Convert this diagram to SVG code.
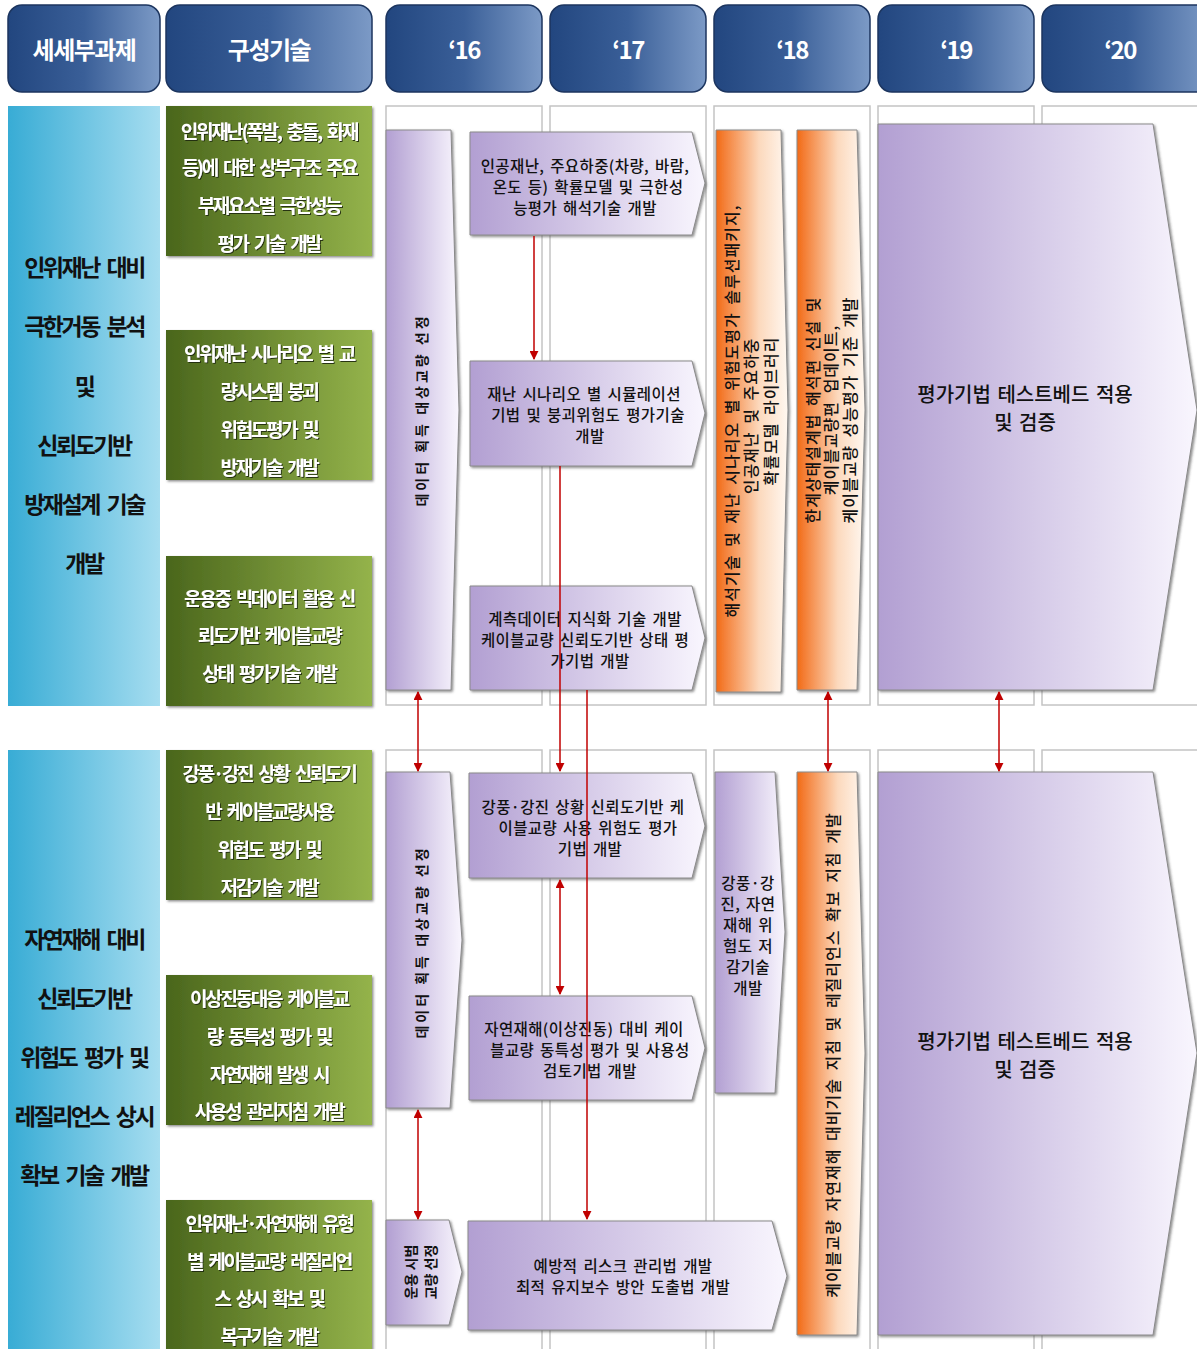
<svg xmlns="http://www.w3.org/2000/svg" width="1197" height="1349" viewBox="0 0 1197 1349">
<defs>
<linearGradient id="gHdr" x1="0" y1="0" x2="1" y2="0"><stop offset="0" stop-color="#22467f"/><stop offset="0.5" stop-color="#3a5f98"/><stop offset="1" stop-color="#7c9ac6"/></linearGradient>
<linearGradient id="gBlue" x1="0" y1="0" x2="1" y2="0"><stop offset="0" stop-color="#38acd5"/><stop offset="1" stop-color="#a6ddf0"/></linearGradient>
<linearGradient id="gGreen" x1="0" y1="0" x2="1" y2="0"><stop offset="0" stop-color="#4a661c"/><stop offset="1" stop-color="#94b34b"/></linearGradient>
<linearGradient id="gPurple" x1="0" y1="0" x2="1" y2="0"><stop offset="0" stop-color="#b29fd2"/><stop offset="1" stop-color="#f9f6fe"/></linearGradient>
<linearGradient id="gOrange" x1="0" y1="0" x2="1" y2="0"><stop offset="0" stop-color="#f26a16"/><stop offset="0.6" stop-color="#fcd9bd"/><stop offset="1" stop-color="#fff8f1"/></linearGradient>
<filter id="sh" x="-10%" y="-10%" width="130%" height="130%"><feDropShadow dx="1.5" dy="1.5" stdDeviation="1" flood-color="#444" flood-opacity="0.6"/></filter>
<filter id="ts" x="-5%" y="-20%" width="110%" height="150%"><feDropShadow dx="1" dy="1" stdDeviation="0.6" flood-color="#1e2a08" flood-opacity="0.9"/></filter>
<marker id="ah" viewBox="0 0 10 10" refX="9" refY="5" markerWidth="6" markerHeight="6" orient="auto-start-reverse"><path d="M0,0 L10,5 L0,10 Z" fill="#c00000"/></marker>
<style>
.hdr{fill:url(#gHdr);stroke:#1c355f;stroke-width:1.5}
.hdrT{font-family:"Noto Sans CJK KR","Noto Sans",sans-serif;font-weight:700;font-size:24px;fill:#fff;text-anchor:middle;dominant-baseline:central;letter-spacing:-1.5px}
.col{fill:#fff;stroke:#c4c4c4;stroke-width:1.5}
.blue{fill:url(#gBlue)}
.blueT{font-family:"Noto Sans CJK KR","Noto Sans",sans-serif;font-weight:700;font-size:23px;fill:#111;text-anchor:middle;dominant-baseline:central;letter-spacing:-2.5px;word-spacing:5px}
.green{fill:url(#gGreen);filter:url(#sh)}
.greenT{font-family:"Noto Sans CJK KR","Noto Sans",sans-serif;font-weight:700;font-size:19px;fill:#fff;text-anchor:middle;dominant-baseline:central;letter-spacing:-2.3px;word-spacing:4px;filter:url(#ts)}
.pur{fill:url(#gPurple);stroke:#8a8a8a;stroke-width:1;filter:url(#sh)}
.org{fill:url(#gOrange);stroke:#8a8a8a;stroke-width:1;filter:url(#sh)}
.t{font-family:"Noto Sans CJK KR","Noto Sans",sans-serif;font-weight:500;font-size:15.5px;fill:#111;text-anchor:middle;dominant-baseline:central;letter-spacing:0.4px;word-spacing:2px}
.tv{font-family:"Noto Sans CJK KR","Noto Sans",sans-serif;font-weight:700;font-size:14px;fill:#111;text-anchor:middle;dominant-baseline:central}
.to{font-family:"Noto Sans CJK KR","Noto Sans",sans-serif;font-weight:500;font-size:16px;fill:#111;text-anchor:middle;dominant-baseline:central;letter-spacing:1px;word-spacing:3px}
.big{font-family:"Noto Sans CJK KR","Noto Sans",sans-serif;font-weight:500;font-size:20px;fill:#111;text-anchor:middle;dominant-baseline:central;word-spacing:2px}
.con{stroke:#c00000;stroke-width:1.5;fill:none}
</style>
</defs>

<g id="header">
<g id="h1"><rect class="hdr" x="8" y="5" width="152" height="87" rx="14"/><text class="hdrT" x="84" y="48">세세부과제</text></g>
<g id="h2"><rect class="hdr" x="166" y="5" width="206" height="87" rx="14"/><text class="hdrT" x="269" y="48">구성기술</text></g>
<g id="h3"><rect class="hdr" x="386" y="5" width="156" height="87" rx="14"/><text class="hdrT" x="464" y="48">‘16</text></g>
<g id="h4"><rect class="hdr" x="550" y="5" width="156" height="87" rx="14"/><text class="hdrT" x="628" y="48">‘17</text></g>
<g id="h5"><rect class="hdr" x="714" y="5" width="156" height="87" rx="14"/><text class="hdrT" x="792" y="48">‘18</text></g>
<g id="h6"><rect class="hdr" x="878" y="5" width="156" height="87" rx="14"/><text class="hdrT" x="956" y="48">‘19</text></g>
<g id="h7"><rect class="hdr" x="1042" y="5" width="170" height="87" rx="14"/><text class="hdrT" x="1120" y="48">‘20</text></g>
</g>

<g id="columns">
<rect class="col" x="386" y="106" width="156" height="599"/>
<rect class="col" x="550" y="106" width="156" height="599"/>
<rect class="col" x="714" y="106" width="156" height="599"/>
<rect class="col" x="878" y="106" width="156" height="599"/>
<rect class="col" x="1042" y="106" width="160" height="599"/>
<rect class="col" x="386" y="750" width="156" height="605"/>
<rect class="col" x="550" y="750" width="156" height="605"/>
<rect class="col" x="714" y="750" width="156" height="605"/>
<rect class="col" x="878" y="750" width="156" height="605"/>
<rect class="col" x="1042" y="750" width="160" height="605"/>
</g>

<g id="task1">
<rect class="blue" x="8" y="106" width="152" height="600"/>
<text class="blueT" x="84" y="266">인위재난 대비</text>
<text class="blueT" x="84" y="325">극한거동 분석</text>
<text class="blueT" x="84" y="385">및</text>
<text class="blueT" x="84" y="444">신뢰도기반</text>
<text class="blueT" x="84" y="503">방재설계 기술</text>
<text class="blueT" x="84" y="562">개발</text>
</g>
<g id="task2">
<rect class="blue" x="8" y="750" width="152" height="605"/>
<text class="blueT" x="84" y="938">자연재해 대비</text>
<text class="blueT" x="84" y="997">신뢰도기반</text>
<text class="blueT" x="84" y="1056">위험도 평가 및</text>
<text class="blueT" x="84" y="1115">레질리언스 상시</text>
<text class="blueT" x="84" y="1174">확보 기술 개발</text>
</g>

<g id="tech1"><rect class="green" x="166" y="106" width="206" height="150"/>
<text class="greenT" x="269" y="130">인위재난(폭발, 충돌, 화재</text>
<text class="greenT" x="269" y="166">등)에 대한 상부구조 주요</text>
<text class="greenT" x="269" y="204">부재요소별 극한성능</text>
<text class="greenT" x="269" y="242">평가 기술 개발</text></g>
<g id="tech2"><rect class="green" x="166" y="330" width="206" height="150"/>
<text class="greenT" x="269" y="352">인위재난 시나리오 별 교</text>
<text class="greenT" x="269" y="390">량시스템 붕괴</text>
<text class="greenT" x="269" y="428">위험도평가 및</text>
<text class="greenT" x="269" y="466">방재기술 개발</text></g>
<g id="tech3"><rect class="green" x="166" y="556" width="206" height="150"/>
<text class="greenT" x="269" y="597">운용중 빅데이터 활용 신</text>
<text class="greenT" x="269" y="634">뢰도기반 케이블교량</text>
<text class="greenT" x="269" y="672">상태 평가기술 개발</text></g>
<g id="tech4"><rect class="green" x="166" y="750" width="206" height="150"/>
<text class="greenT" x="269" y="772">강풍·강진 상황 신뢰도기</text>
<text class="greenT" x="269" y="810">반 케이블교량사용</text>
<text class="greenT" x="269" y="848">위험도 평가 및</text>
<text class="greenT" x="269" y="886">저감기술 개발</text></g>
<g id="tech5"><rect class="green" x="166" y="975" width="206" height="150"/>
<text class="greenT" x="269" y="997">이상진동대응 케이블교</text>
<text class="greenT" x="269" y="1035">량 동특성 평가 및</text>
<text class="greenT" x="269" y="1073">자연재해 발생 시</text>
<text class="greenT" x="269" y="1110">사용성 관리지침 개발</text></g>
<g id="tech6"><rect class="green" x="166" y="1200" width="206" height="155"/>
<text class="greenT" x="269" y="1222">인위재난·자연재해 유형</text>
<text class="greenT" x="269" y="1260">별 케이블교량 레질리언</text>
<text class="greenT" x="269" y="1297">스 상시 확보 및</text>
<text class="greenT" x="269" y="1335">복구기술 개발</text></g>

<g id="data1"><path class="pur" d="M386,130 L451,130 L459,410 L451,690 L386,690 Z"/>
<text class="tv" transform="translate(421,410) rotate(-90)" letter-spacing="3">데이터 획득 대상교량 선정</text></g>
<g id="data2"><path class="pur" d="M386,772 L450,772 L462,940 L450,1108 L386,1108 Z"/>
<text class="tv" transform="translate(421,942) rotate(-90)" letter-spacing="3">데이터 획득 대상교량 선정</text></g>
<g id="pilot"><path class="pur" d="M386,1220 L449,1220 L462,1272 L449,1325 L386,1325 Z"/>
<text class="tv" transform="translate(410,1272) rotate(-90)">운용 시범</text>
<text class="tv" transform="translate(430,1272) rotate(-90)">교량 선정</text></g>

<g id="boxA"><path class="pur" d="M470,132 L692,132 L705,183 L692,235 L470,235 Z"/>
<text class="t" x="585" y="165">인공재난, 주요하중(차량, 바람,</text>
<text class="t" x="588" y="186">온도 등) 확률모델 및 극한성</text>
<text class="t" x="585" y="207">능평가 해석기술 개발</text></g>
<g id="boxB"><path class="pur" d="M470,361 L692,361 L705,413 L692,466 L470,466 Z"/>
<text class="t" x="584" y="393">재난 시나리오 별 시뮬레이션</text>
<text class="t" x="588" y="414">기법 및 붕괴위험도 평가기술</text>
<text class="t" x="590" y="435">개발</text></g>
<g id="boxC"><path class="pur" d="M470,586 L692,586 L705,638 L692,690 L470,690 Z"/>
<text class="t" x="585" y="618">계측데이터 지식화 기술 개발</text>
<text class="t" x="585" y="639">케이블교량 신뢰도기반 상태 평</text>
<text class="t" x="590" y="660">가기법 개발</text></g>
<g id="boxD"><path class="pur" d="M469,773 L692,773 L705,826 L692,878 L469,878 Z"/>
<text class="t" x="583" y="806">강풍·강진 상황 신뢰도기반 케</text>
<text class="t" x="588" y="827">이블교량 사용 위험도 평가</text>
<text class="t" x="590" y="848">기법 개발</text></g>
<g id="boxE"><path class="pur" d="M469,996 L692,996 L705,1048 L692,1100 L469,1100 Z"/>
<text class="t" x="584" y="1028">자연재해(이상진동) 대비 케이</text>
<text class="t" x="590" y="1049">블교량 동특성 평가 및 사용성</text>
<text class="t" x="590" y="1070">검토기법 개발</text></g>
<g id="boxF"><path class="pur" d="M468,1221 L772,1221 L787,1276 L772,1330 L468,1330 Z"/>
<text class="t" x="623" y="1265">예방적 리스크 관리법 개발</text>
<text class="t" x="623" y="1286">최적 유지보수 방안 도출법 개발</text></g>

<g id="org1"><path class="org" d="M716,130 L781,130 L788,410 L781,692 L716,692 Z"/>
<text class="to" transform="translate(731,411) rotate(-90)">해석기술 및 재난 시나리오 별 위험도평가 솔루션패키지,</text>
<text class="to" transform="translate(750,416) rotate(-90)">인공재난 및 주요하중</text>
<text class="to" transform="translate(770,411) rotate(-90)">확률모델 라이브러리</text></g>
<g id="org2"><path class="org" d="M797,130 L857,130 L865,410 L857,690 L797,690 Z"/>
<text class="to" transform="translate(812,410) rotate(-90)">한계상태설계법 해석편 신설 및</text>
<text class="to" transform="translate(830,410) rotate(-90)">케이블교량편 업데이트,</text>
<text class="to" transform="translate(849,410) rotate(-90)">케이블교량 성능평가 기준 개발</text></g>

<g id="wind"><path class="pur" d="M715,772 L775,772 L785,932 L775,1093 L715,1093 Z"/>
<text class="t" x="748" y="882">강풍·강</text>
<text class="t" x="748" y="903">진, 자연</text>
<text class="t" x="748" y="924">재해 위</text>
<text class="t" x="748" y="945">험도 저</text>
<text class="t" x="748" y="966">감기술</text>
<text class="t" x="748" y="987">개발</text></g>
<g id="org3"><path class="org" d="M797,772 L857,772 L865,1053 L857,1335 L797,1335 Z"/>
<text class="to" transform="translate(832,1055) rotate(-90)" font-size="15" letter-spacing="3.5" word-spacing="0">케이블교량 자연재해 대비기술 지침 및 레질리언스 확보 지침 개발</text></g>

<g id="test1"><path class="pur" d="M878,124 L1153,124 L1197,410 L1153,690 L878,690 Z"/>
<text class="big" x="1025" y="393">평가기법 테스트베드 적용</text>
<text class="big" x="1025" y="421">및 검증</text></g>
<g id="test2"><path class="pur" d="M878,772 L1153,772 L1197,1053 L1153,1335 L878,1335 Z"/>
<text class="big" x="1025" y="1040">평가기법 테스트베드 적용</text>
<text class="big" x="1025" y="1068">및 검증</text></g>

<g id="connectors">
<line class="con" x1="534" y1="236" x2="534" y2="359" marker-end="url(#ah)"/>
<line class="con" x1="560" y1="466" x2="560" y2="771" marker-end="url(#ah)"/>
<line class="con" x1="587" y1="690" x2="587" y2="1219" marker-end="url(#ah)"/>
<line class="con" x1="560" y1="880" x2="560" y2="994" marker-start="url(#ah)" marker-end="url(#ah)"/>
<line class="con" x1="418" y1="692" x2="418" y2="771" marker-start="url(#ah)" marker-end="url(#ah)"/>
<line class="con" x1="418" y1="1110" x2="418" y2="1219" marker-start="url(#ah)" marker-end="url(#ah)"/>
<line class="con" x1="828" y1="692" x2="828" y2="771" marker-start="url(#ah)" marker-end="url(#ah)"/>
<line class="con" x1="999" y1="692" x2="999" y2="771" marker-start="url(#ah)" marker-end="url(#ah)"/>
</g>
</svg>
